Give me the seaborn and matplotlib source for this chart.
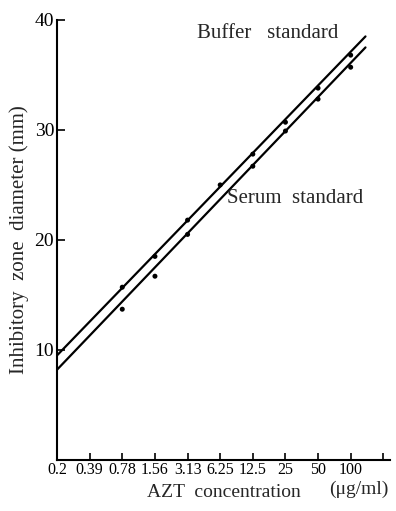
import numpy as np
import pandas as pd
import matplotlib
matplotlib.use("Agg")
import matplotlib.pyplot as plt
import seaborn as sns

# ---- data ----
tick_conc = [0.195, 0.39, 0.78, 1.5625, 3.125, 6.25, 12.5, 25, 50, 100, 200]
tick_labels = ["0.2", "0.39", "0.78", "1.56", "3.13", "6.25", "12.5", "25", "50", "100", ""]
conc = [0.78, 1.5625, 3.125, 6.25, 12.5, 25, 50, 100]
buffer_zone = [15.7, 18.5, 21.8, 25.0, 27.8, 30.7, 33.8, 36.8]
serum_zone = [13.7, 16.7, 20.5, np.nan, 26.7, 29.9, 32.8, 35.7]
# standard lines (as drawn in the figure): values at the two line ends
line_conc = [0.195, 137.0]
buffer_line = [9.5, 38.5]
serum_line = [8.2, 37.5]
y_ticks = [10, 20, 30, 40]

sns.set_theme(style="ticks")
plt.rcParams["font.family"] = ["Liberation Serif", "DejaVu Serif"]

fig = plt.figure(figsize=(3.96, 5.11), dpi=100)
ax = fig.add_axes([0.144, 0.1, 0.841, 0.861])

df = pd.DataFrame({"conc": conc * 2,
                   "zone": buffer_zone + serum_zone,
                   "std": ["Buffer"] * len(conc) + ["Serum"] * len(conc)}).dropna()

ax.set_xscale("log", base=2)
sns.lineplot(x=line_conc, y=buffer_line, ax=ax, color="black", lw=1.6)
sns.lineplot(x=line_conc, y=serum_line, ax=ax, color="black", lw=1.6)

sns.scatterplot(data=df, x="conc", y="zone", ax=ax, color="black", s=13,
                edgecolor="none", legend=False, zorder=5)

x0 = tick_conc[0]
ax.set_xlim(x0, x0 * 2 ** 10.21)
ax.set_ylim(0, 40)
ax.set_xticks(tick_conc)
ax.set_xticklabels(tick_labels)
ax.xaxis.set_minor_locator(matplotlib.ticker.NullLocator())
ax.set_yticks(y_ticks)
ax.tick_params(axis="x", direction="in", length=5, width=1.2, pad=1.5, labelsize=11.5, colors="black")
ax.tick_params(axis="y", direction="in", length=6, width=1.2, pad=2, labelsize=14, colors="black")
for side in ["top", "right"]:
    ax.spines[side].set_visible(False)
for side in ["left", "bottom"]:
    ax.spines[side].set_linewidth(1.5)
    ax.spines[side].set_color("black")

ax.set_xlabel("AZT  concentration", fontsize=14, labelpad=4)
ax.set_ylabel("Inhibitory  zone  diameter (mm)", fontsize=15, labelpad=4)

ax.text(0.995, -0.047, "(μg/ml)", transform=ax.transAxes, ha="right", va="top", fontsize=14)
ax.text(0.42, 0.97, "Buffer   standard", transform=ax.transAxes, ha="left", va="center", fontsize=15)
ax.text(0.51, 0.593, "Serum  standard", transform=ax.transAxes, ha="left", va="center", fontsize=15)

fig.savefig("out.png", dpi=100, facecolor="white")
